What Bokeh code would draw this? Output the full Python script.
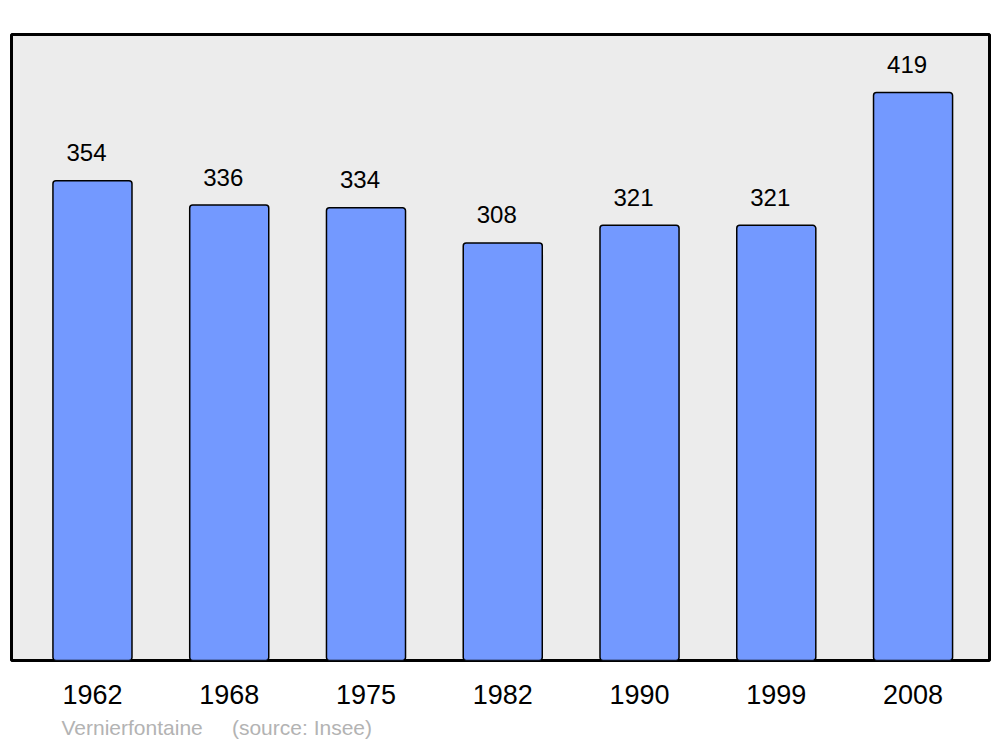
from bokeh.plotting import figure
from bokeh.models import Range1d, FixedTicker, ColumnDataSource, Title
from bokeh.core.properties import value
from bokeh.embed import file_html
from bokeh.resources import INLINE

years = ["1962", "1968", "1975", "1982", "1990", "1999", "2008"]
population = [354, 336, 334, 308, 321, 321, 419]
idx = list(range(len(years)))
footer = "Vernierfontaine" + "\u00a0" * 4 + " " + "(source: Insee)"

FONT = "Liberation Sans"

src = ColumnDataSource(dict(x=idx, top=population, label=[str(v) for v in population]))

p = figure(width=1000, height=747, output_backend="svg", toolbar_location=None,
           x_range=Range1d(-0.592, 6.559), y_range=Range1d(0, 461.8),
           min_border_left=11, min_border_right=11, min_border_top=34, min_border_bottom=87)
p.background_fill_color = "#ececec"
p.border_fill_color = "white"
p.outline_line_color = "black"
p.outline_line_width = 3
p.grid.visible = False
p.yaxis.visible = False

p.vbar(x="x", top="top", bottom=0, width=0.578, source=src,
       fill_color="#7399ff", line_color="black", line_width=1.5, border_radius=3)

p.text(x="x", y="top", text="label", source=src, x_offset=-6, y_offset=-28,
       text_align="center", text_baseline="alphabetic",
       text_font=value(FONT), text_font_size="24px", text_color="black")

ax = p.xaxis[0]
ax.ticker = FixedTicker(ticks=idx)
ax.major_label_overrides = {i: y for i, y in zip(idx, years)}
ax.axis_line_color = None
ax.major_tick_line_color = None
ax.minor_tick_line_color = None
ax.major_label_text_font = FONT
ax.major_label_text_font_size = "27px"
ax.major_label_text_color = "black"
ax.major_label_standoff = 18

p.add_layout(Title(text=footer, align="left", offset=50, standoff=15,
                   text_font=FONT, text_font_size="21px", text_font_style="normal",
                   text_color="#b3b3b3"), "below")

open("out.html", "w").write(file_html(p, INLINE))
